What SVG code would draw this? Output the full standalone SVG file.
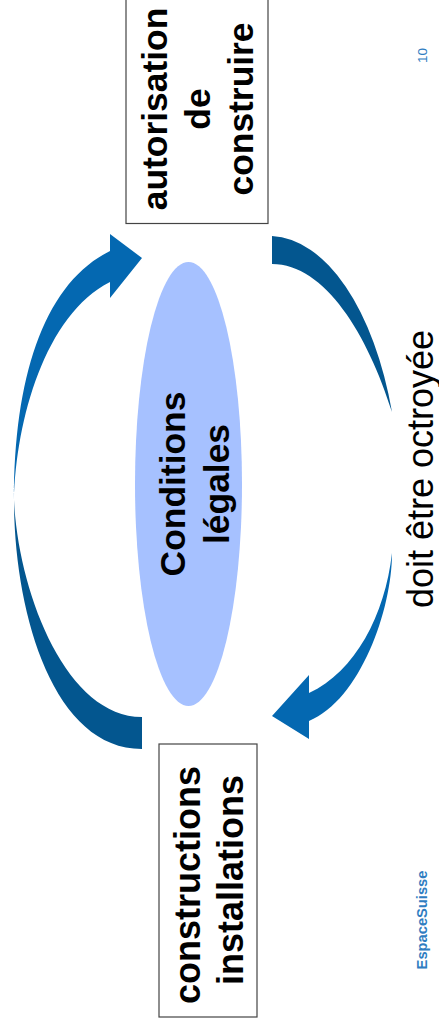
<svg xmlns="http://www.w3.org/2000/svg" width="439" height="1033" viewBox="0 0 439 1033">
<style>
text{font-family:"Liberation Sans",Arial,sans-serif;text-anchor:middle}
.b{font-size:36px;font-weight:bold;fill:#000}
.t{font-size:35.400px}
.box{fill:#fff;stroke:#444;stroke-width:1.2}
.up{fill:#0468B1}
.dn{fill:#03568F}
.foot{fill:#2F7DC1}
</style>
<rect width="439" height="1033" fill="#fff"/>
<g id="connectors">
<path class="up" d="M14,500 C14,375 45,283 110,251 L110,234 L142,258 L110,298 L110,282 C45,315 16,420 14,500 Z"/>
<path class="dn" d="M14,500 C14,610 52,749 142,749 L142,717 C65,717 18,590 14,500 Z"/>
<path class="dn" d="M272,236 A131,264 0 0 1 392,412 C368,335 325,264 272,264 Z"/>
<path class="up" d="M392,553 C392,610 360,700 309,721 L309,739 L272,716 L309,675 L309,693 C355,672 385,615 392,553 Z"/>
</g>
<g id="node-conditions">
<ellipse cx="188.500" cy="484" rx="53.500" ry="222" fill="#A6C1FF"/>
<text class="b t" transform="translate(185,484) rotate(-90)">Conditions</text>
<text class="b t" transform="translate(229,484) rotate(-90)">légales</text>
</g>
<g id="node-autorisation">
<rect class="box" x="126" y="-40" width="142" height="263.500"/>
<text class="b t" transform="translate(166.500,109) rotate(-90)">autorisation</text>
<text class="b t" transform="translate(210,109) rotate(-90)">de</text>
<text class="b t" transform="translate(253,109) rotate(-90)">construire</text>
</g>
<g id="node-constructions">
<rect class="box" x="159" y="744" width="98" height="273"/>
<text class="b" transform="translate(200,885) rotate(-90)">constructions</text>
<text class="b" transform="translate(243,880) rotate(-90)">installations</text>
</g>
<g id="label-octroyee">
<text style="font-size:36px;fill:#000" transform="translate(432.500,469) rotate(-90)">doit être octroyée</text>
</g>
<g id="footer">
<text class="foot" style="font-size:13.500px" transform="translate(427,55.500) rotate(-90)">10</text>
<text class="foot" style="font-size:14.700px;font-weight:bold" transform="translate(427,920) rotate(-90)">EspaceSuisse</text>
</g>
</svg>
